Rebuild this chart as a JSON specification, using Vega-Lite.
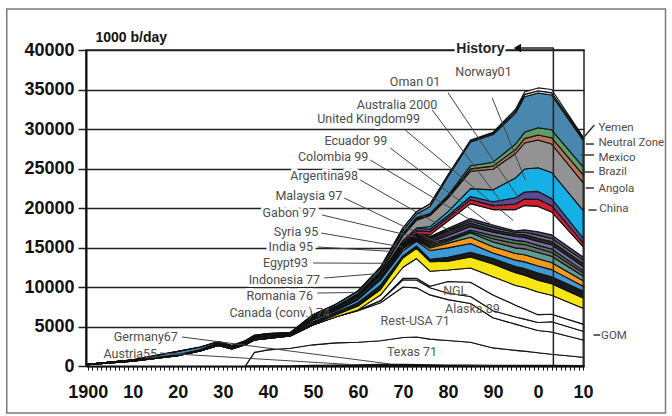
{
"$schema":"https://vega.github.io/schema/vega-lite/v6.json",
"autosize":{"type":"none"},
"width":498,"height":316,
"padding":{"left":86,"top":50,"right":88,"bottom":50},
"background":"white",
"config":{"view":{"stroke":"#222","strokeWidth":1.5},"font":"Liberation Sans"},
"datasets":{
"prod":[
{"year":1900,"Germany":0,"Austria":0,"Texas":0,"RestUSA":150,"GOM":0,"Alaska":0,"NGL":0,"Canada":0,"Romania":15,"Indonesia":30,"Egypt":0,"India":5,"Syria":0,"Gabon":0,"Malaysia":0,"Argentina":0,"Colombia":0,"Ecuador":0,"UK":0,"Australia":0,"Oman":0,"Norway":0,"China":0,"Angola":0,"Brazil":0,"Mexico":0,"NeutralZone":0,"Yemen":0},
{"year":1910,"Germany":0,"Austria":0,"Texas":0,"RestUSA":600,"GOM":0,"Alaska":0,"NGL":0,"Canada":0,"Romania":40,"Indonesia":80,"Egypt":0,"India":20,"Syria":0,"Gabon":0,"Malaysia":0,"Argentina":20,"Colombia":0,"Ecuador":0,"UK":0,"Australia":0,"Oman":0,"Norway":0,"China":0,"Angola":0,"Brazil":0,"Mexico":40,"NeutralZone":0,"Yemen":0},
{"year":1920,"Germany":0,"Austria":0,"Texas":0,"RestUSA":1300,"GOM":0,"Alaska":0,"NGL":0,"Canada":5,"Romania":20,"Indonesia":50,"Egypt":0,"India":20,"Syria":0,"Gabon":0,"Malaysia":0,"Argentina":30,"Colombia":0,"Ecuador":0,"UK":0,"Australia":0,"Oman":0,"Norway":0,"China":0,"Angola":0,"Brazil":0,"Mexico":430,"NeutralZone":0,"Yemen":0},
{"year":1925,"Germany":0,"Austria":0,"Texas":0,"RestUSA":1900,"GOM":0,"Alaska":0,"NGL":0,"Canada":5,"Romania":45,"Indonesia":60,"Egypt":3,"India":20,"Syria":0,"Gabon":0,"Malaysia":0,"Argentina":30,"Colombia":20,"Ecuador":2,"UK":0,"Australia":0,"Oman":0,"Norway":0,"China":0,"Angola":0,"Brazil":0,"Mexico":315,"NeutralZone":0,"Yemen":0},
{"year":1929,"Germany":0,"Austria":0,"Texas":0,"RestUSA":2600,"GOM":0,"Alaska":0,"NGL":0,"Canada":5,"Romania":100,"Indonesia":110,"Egypt":5,"India":25,"Syria":0,"Gabon":0,"Malaysia":0,"Argentina":60,"Colombia":60,"Ecuador":15,"UK":0,"Australia":0,"Oman":0,"Norway":0,"China":0,"Angola":0,"Brazil":0,"Mexico":120,"NeutralZone":0,"Yemen":0},
{"year":1932,"Germany":0,"Austria":0,"Texas":0,"RestUSA":2150,"GOM":0,"Alaska":0,"NGL":0,"Canada":5,"Romania":145,"Indonesia":100,"Egypt":5,"India":25,"Syria":0,"Gabon":0,"Malaysia":0,"Argentina":45,"Colombia":30,"Ecuador":5,"UK":0,"Australia":0,"Oman":0,"Norway":0,"China":0,"Angola":0,"Brazil":0,"Mexico":90,"NeutralZone":0,"Yemen":0},
{"year":1935,"Germany":10,"Austria":0,"Texas":0,"RestUSA":2690,"GOM":0,"Alaska":0,"NGL":0,"Canada":10,"Romania":170,"Indonesia":120,"Egypt":5,"India":25,"Syria":0,"Gabon":0,"Malaysia":0,"Argentina":30,"Colombia":25,"Ecuador":5,"UK":0,"Australia":0,"Oman":0,"Norway":0,"China":0,"Angola":0,"Brazil":0,"Mexico":110,"NeutralZone":0,"Yemen":0},
{"year":1937,"Germany":20,"Austria":0,"Texas":1700,"RestUSA":1580,"GOM":0,"Alaska":0,"NGL":0,"Canada":10,"Romania":140,"Indonesia":150,"Egypt":5,"India":25,"Syria":0,"Gabon":0,"Malaysia":0,"Argentina":45,"Colombia":55,"Ecuador":40,"UK":0,"Australia":0,"Oman":0,"Norway":0,"China":0,"Angola":0,"Brazil":0,"Mexico":130,"NeutralZone":0,"Yemen":0},
{"year":1940,"Germany":30,"Austria":10,"Texas":2000,"RestUSA":1460,"GOM":0,"Alaska":0,"NGL":0,"Canada":20,"Romania":120,"Indonesia":170,"Egypt":20,"India":25,"Syria":0,"Gabon":0,"Malaysia":0,"Argentina":50,"Colombia":70,"Ecuador":5,"UK":0,"Australia":0,"Oman":0,"Norway":0,"China":0,"Angola":0,"Brazil":0,"Mexico":120,"NeutralZone":0,"Yemen":0},
{"year":1945,"Germany":20,"Austria":20,"Texas":2200,"RestUSA":1560,"GOM":0,"Alaska":0,"NGL":0,"Canada":20,"Romania":90,"Indonesia":60,"Egypt":25,"India":5,"Syria":0,"Gabon":0,"Malaysia":0,"Argentina":60,"Colombia":60,"Ecuador":10,"UK":0,"Australia":0,"Oman":0,"Norway":0,"China":0,"Angola":0,"Brazil":0,"Mexico":120,"NeutralZone":0,"Yemen":0},
{"year":1950,"Germany":40,"Austria":40,"Texas":2600,"RestUSA":2520,"GOM":0,"Alaska":0,"NGL":0,"Canada":100,"Romania":300,"Indonesia":250,"Egypt":50,"India":10,"Syria":20,"Gabon":10,"Malaysia":40,"Argentina":150,"Colombia":150,"Ecuador":20,"UK":0,"Australia":0,"Oman":0,"Norway":0,"China":0,"Angola":0,"Brazil":0,"Mexico":200,"NeutralZone":0,"Yemen":0},
{"year":1955,"Germany":60,"Austria":70,"Texas":2800,"RestUSA":3270,"GOM":0,"Alaska":0,"NGL":0,"Canada":250,"Romania":330,"Indonesia":220,"Egypt":40,"India":20,"Syria":20,"Gabon":30,"Malaysia":60,"Argentina":190,"Colombia":110,"Ecuador":20,"UK":0,"Australia":0,"Oman":0,"Norway":0,"China":50,"Angola":0,"Brazil":10,"Mexico":250,"NeutralZone":0,"Yemen":0},
{"year":1960,"Germany":110,"Austria":50,"Texas":2850,"RestUSA":3990,"GOM":50,"Alaska":0,"NGL":50,"Canada":500,"Romania":400,"Indonesia":400,"Egypt":60,"India":20,"Syria":0,"Gabon":20,"Malaysia":0,"Argentina":320,"Colombia":140,"Ecuador":10,"UK":0,"Australia":0,"Oman":0,"Norway":0,"China":100,"Angola":0,"Brazil":80,"Mexico":300,"NeutralZone":50,"Yemen":0},
{"year":1965,"Germany":150,"Austria":50,"Texas":3000,"RestUSA":4800,"GOM":250,"Alaska":30,"NGL":700,"Canada":700,"Romania":550,"Indonesia":670,"Egypt":120,"India":60,"Syria":0,"Gabon":20,"Malaysia":0,"Argentina":450,"Colombia":120,"Ecuador":10,"UK":0,"Australia":0,"Oman":0,"Norway":0,"China":230,"Angola":10,"Brazil":80,"Mexico":350,"NeutralZone":150,"Yemen":0},
{"year":1970,"Germany":150,"Austria":50,"Texas":3400,"RestUSA":6400,"GOM":900,"Alaska":200,"NGL":1400,"Canada":1200,"Romania":270,"Indonesia":620,"Egypt":280,"India":140,"Syria":80,"Gabon":100,"Malaysia":20,"Argentina":100,"Colombia":100,"Ecuador":10,"UK":0,"Australia":180,"Oman":300,"Norway":0,"China":600,"Angola":100,"Brazil":150,"Mexico":450,"NeutralZone":300,"Yemen":0},
{"year":1973,"Germany":130,"Austria":45,"Texas":3500,"RestUSA":6220,"GOM":1000,"Alaska":200,"NGL":2505,"Canada":1300,"Romania":290,"Indonesia":600,"Egypt":160,"India":150,"Syria":110,"Gabon":150,"Malaysia":90,"Argentina":150,"Colombia":100,"Ecuador":80,"UK":0,"Australia":350,"Oman":300,"Norway":30,"China":1000,"Angola":150,"Brazil":170,"Mexico":450,"NeutralZone":300,"Yemen":0},
{"year":1976,"Germany":110,"Austria":40,"Texas":3250,"RestUSA":5600,"GOM":900,"Alaska":200,"NGL":1900,"Canada":1200,"Romania":310,"Indonesia":1100,"Egypt":330,"India":180,"Syria":200,"Gabon":220,"Malaysia":160,"Argentina":400,"Colombia":150,"Ecuador":150,"UK":200,"Australia":400,"Oman":350,"Norway":300,"China":1400,"Angola":100,"Brazil":150,"Mexico":900,"NeutralZone":300,"Yemen":0},
{"year":1980,"Germany":90,"Austria":30,"Texas":3100,"RestUSA":5180,"GOM":800,"Alaska":1500,"NGL":1450,"Canada":1100,"Romania":500,"Indonesia":1200,"Egypt":600,"India":250,"Syria":170,"Gabon":180,"Malaysia":380,"Argentina":590,"Colombia":130,"Ecuador":200,"UK":900,"Australia":400,"Oman":300,"Norway":500,"China":1700,"Angola":150,"Brazil":200,"Mexico":2400,"NeutralZone":150,"Yemen":50},
{"year":1985,"Germany":80,"Austria":25,"Texas":2900,"RestUSA":4900,"GOM":900,"Alaska":1800,"NGL":1800,"Canada":1400,"Romania":600,"Indonesia":1100,"Egypt":800,"India":550,"Syria":180,"Gabon":170,"Malaysia":440,"Argentina":460,"Colombia":250,"Ecuador":300,"UK":1900,"Australia":500,"Oman":400,"Norway":1000,"China":2200,"Angola":300,"Brazil":400,"Mexico":3000,"NeutralZone":150,"Yemen":100},
{"year":1990,"Germany":70,"Austria":20,"Texas":2200,"RestUSA":3810,"GOM":900,"Alaska":2000,"NGL":2300,"Canada":1600,"Romania":700,"Indonesia":700,"Egypt":800,"India":600,"Syria":400,"Gabon":400,"Malaysia":450,"Argentina":300,"Colombia":300,"Ecuador":300,"UK":1950,"Australia":500,"Oman":500,"Norway":1500,"China":2600,"Angola":400,"Brazil":500,"Mexico":3500,"NeutralZone":150,"Yemen":150},
{"year":1995,"Germany":60,"Austria":20,"Texas":1900,"RestUSA":3320,"GOM":900,"Alaska":1500,"NGL":2500,"Canada":1600,"Romania":800,"Indonesia":800,"Egypt":850,"India":700,"Syria":550,"Gabon":400,"Malaysia":500,"Argentina":300,"Colombia":200,"Ecuador":200,"UK":2700,"Australia":700,"Oman":800,"Norway":2500,"China":3100,"Angola":500,"Brazil":700,"Mexico":3900,"NeutralZone":250,"Yemen":250},
{"year":1997,"Germany":60,"Austria":20,"Texas":1800,"RestUSA":3100,"GOM":950,"Alaska":1300,"NGL":2700,"Canada":1550,"Romania":850,"Indonesia":850,"Egypt":900,"India":750,"Syria":550,"Gabon":400,"Malaysia":500,"Argentina":350,"Colombia":300,"Ecuador":300,"UK":3100,"Australia":800,"Oman":900,"Norway":2900,"China":3300,"Angola":550,"Brazil":800,"Mexico":4500,"NeutralZone":300,"Yemen":300},
{"year":2000,"Germany":60,"Austria":20,"Texas":1600,"RestUSA":2820,"GOM":1000,"Alaska":1000,"NGL":2870,"Canada":1500,"Romania":900,"Indonesia":900,"Egypt":900,"India":800,"Syria":500,"Gabon":400,"Malaysia":500,"Argentina":400,"Colombia":400,"Ecuador":430,"UK":3200,"Australia":900,"Oman":1000,"Norway":3000,"China":3500,"Angola":650,"Brazil":900,"Mexico":4400,"NeutralZone":300,"Yemen":350},
{"year":2003,"Germany":60,"Austria":20,"Texas":1400,"RestUSA":2820,"GOM":1300,"Alaska":950,"NGL":2400,"Canada":1450,"Romania":900,"Indonesia":900,"Egypt":900,"India":800,"Syria":500,"Gabon":400,"Malaysia":550,"Argentina":400,"Colombia":400,"Ecuador":450,"UK":2900,"Australia":800,"Oman":900,"Norway":3300,"China":3600,"Angola":800,"Brazil":1000,"Mexico":4400,"NeutralZone":300,"Yemen":400},
{"year":2010,"Germany":50,"Austria":15,"Texas":1050,"RestUSA":2185,"GOM":1100,"Alaska":900,"NGL":2000,"Canada":1300,"Romania":900,"Indonesia":600,"Egypt":700,"India":600,"Syria":400,"Gabon":300,"Malaysia":500,"Argentina":400,"Colombia":400,"Ecuador":400,"UK":1300,"Australia":500,"Oman":600,"Norway":3500,"China":3500,"Angola":1000,"Brazil":1000,"Mexico":3400,"NeutralZone":250,"Yemen":150}
],
"order":[
{"series":"Germany","rank":1},{"series":"Austria","rank":2},{"series":"Texas","rank":3},{"series":"RestUSA","rank":4},{"series":"GOM","rank":5},{"series":"Alaska","rank":6},{"series":"NGL","rank":7},{"series":"Canada","rank":8},{"series":"Romania","rank":9},{"series":"Indonesia","rank":10},{"series":"Egypt","rank":11},{"series":"India","rank":12},{"series":"Syria","rank":13},{"series":"Gabon","rank":14},{"series":"Malaysia","rank":15},{"series":"Argentina","rank":16},{"series":"Colombia","rank":17},{"series":"Ecuador","rank":18},{"series":"UK","rank":19},{"series":"Australia","rank":20},{"series":"Oman","rank":21},{"series":"Norway","rank":22},{"series":"China","rank":23},{"series":"Angola","rank":24},{"series":"Brazil","rank":25},{"series":"Mexico","rank":26},{"series":"NeutralZone","rank":27},{"series":"Yemen","rank":28}
],
"labelsRight":[
{"label":"Oman 01","year":1978.27,"value":35949},
{"label":"Australia 2000","year":1977.6,"value":33037},
{"label":"United Kingdom99","year":1973.8,"value":31265},
{"label":"Ecuador 99","year":1966.5,"value":28481},
{"label":"Colombia 99","year":1962.3,"value":26455},
{"label":"Argentina98","year":1960.0,"value":24050},
{"label":"Malaysia 97","year":1956.5,"value":21519},
{"label":"Gabon 97","year":1950.7,"value":19367},
{"label":"Syria 95","year":1951.2,"value":16962},
{"label":"India 95","year":1950.0,"value":15063},
{"label":"Egypt93","year":1948.9,"value":13038},
{"label":"Indonesia 77","year":1951.6,"value":10886},
{"label":"Romania 76","year":1950.0,"value":8861},
{"label":"Canada (conv.) 74","year":1953.8,"value":6709},
{"label":"Germany67","year":1920.0,"value":3671},
{"label":"Austria55","year":1915.4,"value":1519}
],
"labelsTop":[
{"label":"Norway01","year":1981.6,"value":37215}
],
"labelsLeft":[
{"label":"Yemen","year":2013.4,"value":30126},
{"label":"Neutral Zone","year":2013.4,"value":28230},
{"label":"Mexico","year":2013.4,"value":26330},
{"label":"Brazil","year":2013.4,"value":24557},
{"label":"Angola","year":2013.4,"value":22405},
{"label":"China","year":2013.6,"value":19873},
{"label":"GOM","year":2014.0,"value":3797}
],
"labelsCenter":[
{"label":"NGL","year":1981.6,"value":9494},
{"label":"Alaska 89","year":1985.4,"value":7215},
{"label":"Rest-USA 71","year":1972.7,"value":5696},
{"label":"Texas 71","year":1972.0,"value":1772}
],
"leaders":[
{"label":"Oman 01","year":1980.04,"value":34556,"year2":1996.0,"value2":21000},
{"label":"Norway01","year":1989.82,"value":33923,"year2":1997.2,"value2":23500},
{"label":"Australia 2000","year":1976.49,"value":32404,"year2":1992.7,"value2":20100},
{"label":"United Kingdom99","year":1970.49,"value":29873,"year2":1994.5,"value2":18400},
{"label":"Ecuador 99","year":1967.16,"value":27595,"year2":1990.0,"value2":17700},
{"label":"Colombia 99","year":1962.71,"value":26075,"year2":1986.0,"value2":18150},
{"label":"Argentina98","year":1960.49,"value":23544,"year2":1981.0,"value2":16900},
{"label":"Malaysia 97","year":1956.93,"value":21265,"year2":1978.0,"value2":15550},
{"label":"Gabon 97","year":1952.04,"value":19114,"year2":1973.0,"value2":16290},
{"label":"Syria 95","year":1951.82,"value":16835,"year2":1970.0,"value2":15050},
{"label":"India 95","year":1951.16,"value":15063,"year2":1967.5,"value2":14500},
{"label":"Egypt93","year":1950.04,"value":13038,"year2":1966.0,"value2":13000},
{"label":"Indonesia 77","year":1952.49,"value":11139,"year2":1964.5,"value2":11700},
{"label":"Romania 76","year":1950.93,"value":9240,"year2":1959.0,"value2":9300},
{"label":"Germany67","year":1920.93,"value":3671,"year2":1967.16,"value2":253},
{"label":"Austria55","year":1916.04,"value":1646,"year2":1958.27,"value2":190}
],
"ticksRight":[
{"label":"Yemen","year":2010.2,"value":28987,"year2":2012.5,"value2":30506},
{"label":"Neutral Zone","year":2010.6,"value":28101,"year2":2012.4,"value2":28101},
{"label":"Mexico","year":2009.6,"value":26708,"year2":2012.4,"value2":26708},
{"label":"Brazil","year":2010.2,"value":24557,"year2":2012.4,"value2":24557},
{"label":"Angola","year":2010.6,"value":22531,"year2":2012.4,"value2":22531},
{"label":"China","year":2011.2,"value":19746,"year2":2013.0,"value2":19746},
{"label":"GOM","year":2012.3,"value":3924,"year2":2013.8,"value2":3924}
],
"historyLines":[
{"year":2003.4,"value":0,"year2":2003.4,"value2":40300},
{"year":1995.8,"value":40250,"year2":2003.4,"value2":40250}
],
"historyArrow":[{"year":1995.4,"value":40250}],
"historyLabel":[{"label":"History","year":1987.2,"value":39620}],
"frame":[{"year":1882.0,"value":45190,"year2":2028.3,"value2":-5950}]
},
"encoding":{
"x":{"field":"year","type":"quantitative","scale":{"domain":[1899.6,2010.2],"nice":false,"zero":false},
"axis":{"title":null,"grid":false,"tickCount":111,"labelExpr":"datum.value % 10 == 0 ? (datum.value == 1900 ? '1900' : '' + (datum.value % 100)) : ''","labelOverlap":false,"labelFlush":false,"labelBound":false,"labelFont":"Liberation Sans","labelFontWeight":"bold","labelFontSize":18,"labelColor":"#111","labelPadding":13,"tickSize":4,"tickColor":"#111","tickWidth":1,"domainColor":"#111","domainWidth":2}},
"y":{"field":"value","type":"quantitative","scale":{"domain":[0,40000],"nice":false},
"axis":{"title":"1000 b/day","titleAngle":0,"titleAlign":"left","titleBaseline":"alphabetic","titleX":9,"titleY":-9,"titleFont":"Liberation Sans","titleFontSize":14,"titleFontWeight":"bold","titleColor":"#111","values":[0,5000,10000,15000,20000,25000,30000,35000,40000],"format":"d","labelFont":"Liberation Sans","labelFontWeight":"bold","labelFontSize":18,"labelColor":"#111","labelPadding":4,"tickSize":8,"tickColor":"#222","tickWidth":1.5,"grid":true,"gridColor":"#222","gridWidth":1.5,"domainColor":"#111","domainWidth":2}}
},
"layer":[
{"data":{"name":"frame"},"mark":{"type":"rect","filled":false,"color":"#7a7a7a","strokeWidth":1.5},
 "encoding":{"x2":{"field":"year2"},"y2":{"field":"value2"}}},
{"data":{"name":"labelsRight"},"mark":{"type":"text","align":"right","baseline":"middle","font":"Roboto","fontSize":12.5,"fill":"white","stroke":"white","strokeWidth":6,"strokeJoin":"round"},
 "encoding":{"text":{"field":"label"}}},
{"data":{"name":"historyLabel"},"mark":{"type":"text","align":"center","baseline":"alphabetic","font":"Liberation Sans","fontWeight":"bold","fontSize":14,"fill":"white","stroke":"white","strokeWidth":5},
 "encoding":{"text":{"field":"label"}}},
{"data":{"name":"prod"},
 "transform":[
  {"fold":["Germany","Austria","Texas","RestUSA","GOM","Alaska","NGL","Canada","Romania","Indonesia","Egypt","India","Syria","Gabon","Malaysia","Argentina","Colombia","Ecuador","UK","Australia","Oman","Norway","China","Angola","Brazil","Mexico","NeutralZone","Yemen"],"as":["series","value"]},
  {"lookup":"series","from":{"data":{"name":"order"},"key":"series","fields":["rank"]}}
 ],
 "mark":{"type":"area","interpolate":"linear","stroke":"#111","strokeWidth":1.1,"strokeJoin":"round","opacity":1,"fillOpacity":1},
 "encoding":{
  "color":{"field":"series","type":"nominal","legend":null,
   "scale":{"domain":["Germany","Austria","Texas","RestUSA","GOM","Alaska","NGL","Canada","Romania","Indonesia","Egypt","India","Syria","Gabon","Malaysia","Argentina","Colombia","Ecuador","UK","Australia","Oman","Norway","China","Angola","Brazil","Mexico","NeutralZone","Yemen"],
    "range":["#1a1a1a","#1a1a1a","#ffffff","#ffffff","#ffffff","#ffffff","#ffffff","#f5e614","#1a1a1a","#3d9ad6","#f29a1e","#5e9c96","#6e6e6e","#4f7d5a","#7a6aa8","#2b2b2b","#6b7f70","#57488f","#ffffff","#d3202e","#5a4a8f","#14b0e6","#939393","#b8735a","#5f9c6c","#4a87af","#cfcfcf","#ffffff"]}},
  "order":{"field":"rank","type":"quantitative","sort":"ascending"}
 }},
{"data":{"name":"leaders"},"mark":{"type":"rule","color":"#444","strokeWidth":1},
 "encoding":{"x2":{"field":"year2"},"y2":{"field":"value2"}}},
{"data":{"name":"ticksRight"},"mark":{"type":"rule","color":"#333","strokeWidth":1.5},
 "encoding":{"x2":{"field":"year2"},"y2":{"field":"value2"}}},
{"data":{"name":"historyLines"},"mark":{"type":"rule","color":"#222","strokeWidth":1.5},
 "encoding":{"x2":{"field":"year2"},"y2":{"field":"value2"}}},
{"data":{"name":"historyArrow"},"mark":{"type":"point","shape":"triangle-left","filled":true,"color":"#111","size":70,"opacity":1}},
{"data":{"name":"labelsRight"},"mark":{"type":"text","align":"right","baseline":"middle","font":"Roboto","fontSize":12.5,"color":"#4d4d4d"},
 "encoding":{"text":{"field":"label"}}},
{"data":{"name":"labelsTop"},"mark":{"type":"text","align":"left","baseline":"middle","font":"Roboto","fontSize":12.5,"color":"#4d4d4d"},
 "encoding":{"text":{"field":"label"}}},
{"data":{"name":"labelsLeft"},"mark":{"type":"text","align":"left","baseline":"middle","font":"Roboto","fontSize":11.5,"color":"#4d4d4d"},
 "encoding":{"text":{"field":"label"}}},
{"data":{"name":"labelsCenter"},"mark":{"type":"text","align":"center","baseline":"middle","font":"Roboto","fontSize":12.5,"color":"#555"},
 "encoding":{"text":{"field":"label"}}},
{"data":{"name":"historyLabel"},"mark":{"type":"text","align":"center","baseline":"alphabetic","font":"Liberation Sans","fontWeight":"bold","fontSize":14,"color":"#222"},
 "encoding":{"text":{"field":"label"}}}
]
}
